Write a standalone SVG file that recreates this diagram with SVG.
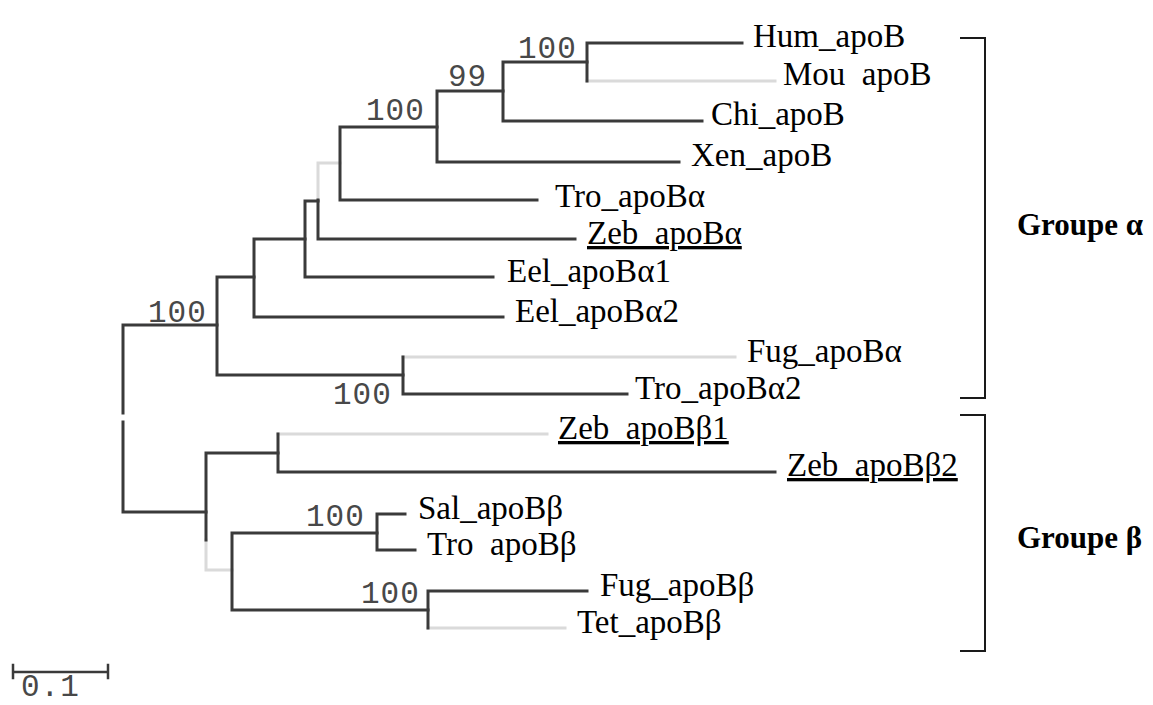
<svg xmlns="http://www.w3.org/2000/svg" width="1153" height="705" viewBox="0 0 1153 705">
<style>
.br{fill:none;stroke:#3a3a3a;stroke-width:3;stroke-linecap:square}
.lt{fill:none;stroke:#dadada;stroke-width:3;stroke-linecap:square}
.bk{fill:none;stroke:#1a1a1a;stroke-width:2}
.lb{font-family:"Liberation Serif","Times New Roman",serif;font-size:33px;fill:#000}
.u{text-decoration:underline}
.bs{font-family:"Liberation Mono","Courier New",monospace;font-size:31px;letter-spacing:1px;fill:#484848}
.gp{font-family:"Liberation Serif","Times New Roman",serif;font-size:31px;font-weight:bold;fill:#000}
</style>
<rect width="1153" height="705" fill="#fff"/>
<g id="connectors">
  <path class="lt" d="M587,81 H775"/>
  <path class="lt" d="M318,163 H340 M318,163 V200"/>
  <path class="lt" d="M403,357 H735"/>
  <path class="lt" d="M278,434 H547"/>
  <path class="lt" d="M206,540 V570 H232"/>
  <path class="lt" d="M428,628 H565"/>
  <path class="br" d="M587,43 V81 M587,43 H742"/>
  <path class="br" d="M503,62 H587 M503,62 V121 H702"/>
  <path class="br" d="M437,91 H503 M437,91 V162 H679"/>
  <path class="br" d="M340,127 H437 M340,127 V200 H537"/>
  <path class="br" d="M318,200 V239 H575"/>
  <path class="br" d="M305,201 H318 M305,201 V277 H493"/>
  <path class="br" d="M254,239 H305 M254,239 V317 H503"/>
  <path class="br" d="M217,277 H254 M217,277 V375 H403"/>
  <path class="br" d="M403,357 V394 H627"/>
  <path class="br" d="M217,325 H123 V413 M123,422 V512 H206"/>
  <path class="br" d="M206,453 V540 M206,453 H278"/>
  <path class="br" d="M278,434 V472 H775"/>
  <path class="br" d="M232,533 V610 H428 M232,533 H377"/>
  <path class="br" d="M377,514 H405 M377,514 V550 H415"/>
  <path class="br" d="M428,591 V628 M428,591 H587"/>
  <path class="bk" d="M960,38 H985 V398 H960"/>
  <path class="bk" d="M960,415 H985 V651 H960"/>
</g>
<g id="leaves">
  <g id="hum"><text class="lb" x="753" y="47">Hum_apoB</text></g>
  <g id="mou"><text class="lb" x="783" y="85" xml:space="preserve">Mou  apoB</text></g>
  <g id="chi"><text class="lb" x="711" y="125">Chi_apoB</text></g>
  <g id="xen"><text class="lb" x="691" y="166">Xen_apoB</text></g>
  <g id="tro-a"><text class="lb" x="555" y="207">Tro_apoBα</text></g>
  <g id="zeb-a"><text class="lb u" x="587" y="244">Zeb_apoBα</text></g>
  <g id="eel-a1"><text class="lb" x="507" y="282">Eel_apoBα1</text></g>
  <g id="eel-a2"><text class="lb" x="515" y="322">Eel_apoBα2</text></g>
  <g id="fug-a"><text class="lb" x="747" y="362">Fug_apoBα</text></g>
  <g id="tro-a2"><text class="lb" x="635" y="399">Tro_apoBα2</text></g>
  <g id="zeb-b1"><text class="lb u" x="558" y="439">Zeb_apoBβ1</text></g>
  <g id="zeb-b2"><text class="lb u" x="787" y="476">Zeb_apoBβ2</text></g>
  <g id="sal-b"><text class="lb" x="418" y="519">Sal_apoBβ</text></g>
  <g id="tro-b"><text class="lb" x="427" y="555" xml:space="preserve">Tro  apoBβ</text></g>
  <g id="fug-b"><text class="lb" x="600" y="596">Fug_apoBβ</text></g>
  <g id="tet-b"><text class="lb" x="577" y="633">Tet_apoBβ</text></g>
</g>
<g id="bootstrap">
  <g id="bs1"><text class="bs" x="518" y="58">100</text></g>
  <g id="bs2"><text class="bs" x="448" y="86">99</text></g>
  <g id="bs3"><text class="bs" x="366" y="120">100</text></g>
  <g id="bs4"><text class="bs" x="148" y="322">100</text></g>
  <g id="bs5"><text class="bs" x="333" y="404">100</text></g>
  <g id="bs6"><text class="bs" x="306" y="526">100</text></g>
  <g id="bs7"><text class="bs" x="361" y="603">100</text></g>
</g>
<g id="groups">
  <g id="group-alpha"><text class="gp" x="1017" y="235">Groupe α</text></g>
  <g id="group-beta"><text class="gp" x="1017" y="548">Groupe β</text></g>
</g>
<g id="scale">
  <path class="br" d="M13,672 H108 M13,665 V678 M108,665 V678" style="stroke-width:2.5"/>
  <text class="bs" x="21" y="696">0.1</text>
</g>
</svg>
